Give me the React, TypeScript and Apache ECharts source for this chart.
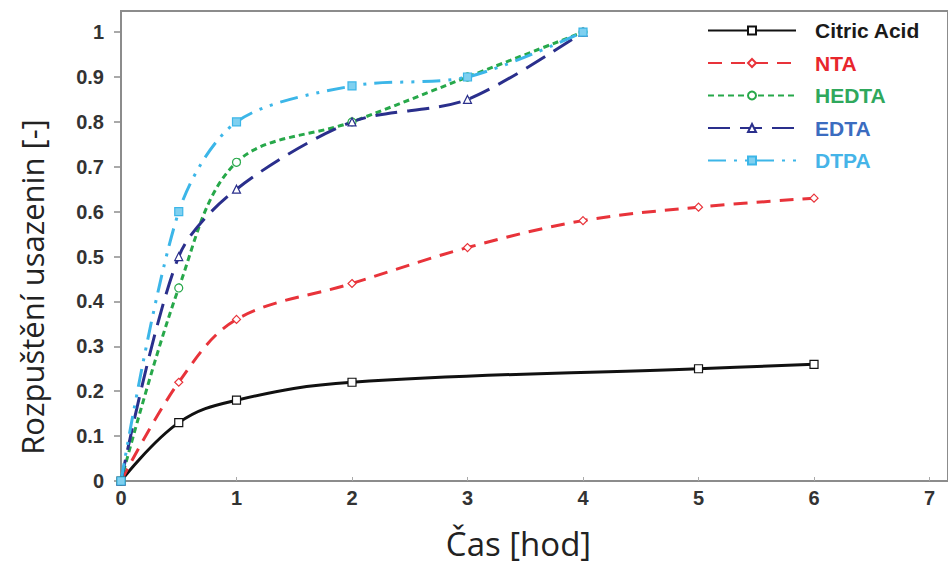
import React, { useEffect, useRef } from "react";
import * as echarts from "echarts";

const xTicks = [0, 1, 2, 3, 4, 5, 6, 7];
const yTicks = [0, 0.1, 0.2, 0.3, 0.4, 0.5, 0.6, 0.7, 0.8, 0.9, 1];

const citricX = [0, 0.5, 1, 2, 5, 6];
const citricY = [0, 0.13, 0.18, 0.22, 0.25, 0.26];
const ntaX = [0, 0.5, 1, 2, 3, 4, 5, 6];
const ntaY = [0, 0.22, 0.36, 0.44, 0.52, 0.58, 0.61, 0.63];
const hedtaX = [0, 0.5, 1, 2, 3, 4];
const hedtaY = [0, 0.43, 0.71, 0.8, 0.9, 1.0];
const edtaX = [0, 0.5, 1, 2, 3, 4];
const edtaY = [0, 0.5, 0.65, 0.8, 0.85, 1.0];
const dtpaX = [0, 0.5, 1, 2, 3, 4];
const dtpaY = [0, 0.6, 0.8, 0.88, 0.9, 1.0];

const seriesNames = ["Citric Acid", "NTA", "HEDTA", "EDTA", "DTPA"];
const textColors = ["#1a1a1a", "#e8262c", "#2fa85c", "#3b6cc0", "#45b4e8"];

const zip = (xs: number[], ys: number[]) => xs.map((x, i) => [x, ys[i]]);

export default function App() {
  const ref = useRef<HTMLDivElement>(null);
  useEffect(() => {
    document.body.style.margin = "0";
    if (!ref.current) return;
    const chart = echarts.init(ref.current, null, { renderer: "svg" });
    const axisGray = "#8c8c8c";
    const mk = (
      name: string,
      xs: number[],
      ys: number[],
      color: string,
      dash: any,
      symbol: string,
      symbolFill: string,
      smooth: number
    ) => ({
      name,
      type: "line",
      data: zip(xs, ys),
      smooth,
      symbol,
      symbolSize: 8,
      showSymbol: true,
      lineStyle: { color, width: 3, type: dash },
      itemStyle: { color: symbolFill, borderColor: color, borderWidth: 1.2 },
      emphasis: { disabled: true },
    });
    chart.setOption({
      animation: false,
      backgroundColor: "#ffffff",
      grid: { left: 121, top: 11, bottom: 90, right: -4, show: true, borderColor: axisGray, borderWidth: 2, backgroundColor: "transparent" },
      legend: {
        orient: "vertical",
        left: 702,
        top: 15,
        itemWidth: 88,
        itemHeight: 10,
        itemGap: 11.5,
        data: seriesNames.map((n, i) => ({
          name: n,
          textStyle: { color: textColors[i], fontWeight: "bold", fontSize: 21, fontFamily: "Liberation Sans, Arial, sans-serif" },
        })),
        textStyle: { padding: [0, 0, 0, 14] },
      },
      xAxis: {
        type: "value",
        min: 0,
        max: 7.16,
        name: "Čas [hod]",
        nameLocation: "middle",
        nameGap: 46,
        nameTextStyle: { fontSize: 33, color: "#222", fontFamily: "Open Sans, sans-serif", verticalAlign: "top", padding: [0, 32, 0, 0] },
        axisLine: { show: true, lineStyle: { color: axisGray, width: 2 } },
        axisTick: { show: true, inside: true, length: 4, customValues: xTicks, lineStyle: { color: "#aaa", width: 1 } },
        axisLabel: {
          customValues: xTicks,
          margin: 7,
          color: "#333",
          fontWeight: "bold",
          fontSize: 20,
          fontFamily: "Liberation Sans, Arial, sans-serif",
        },
        splitLine: { show: false },
      },
      yAxis: {
        type: "value",
        min: 0,
        max: 1.047,
        name: "Rozpuštění usazenin [-]",
        nameLocation: "middle",
        nameGap: 74,
        nameTextStyle: { fontSize: 31, color: "#222", fontFamily: "Open Sans, sans-serif", padding: [0, 82, 0, 0] },
        axisLine: { show: true, lineStyle: { color: axisGray, width: 2 } },
        axisTick: { show: true, inside: false, length: 7, customValues: yTicks, lineStyle: { color: axisGray, width: 1.5 } },
        axisLabel: {
          customValues: yTicks,
          margin: 17,
          color: "#333",
          fontWeight: "bold",
          fontSize: 20,
          fontFamily: "Liberation Sans, Arial, sans-serif",
          formatter: (v: number) => String(Math.round(v * 10) / 10),
        },
        splitLine: { show: false },
      },
      series: [
        mk("Citric Acid", citricX, citricY, "#111111", "solid", "rect", "#ffffff", 0.4),
        mk("NTA", ntaX, ntaY, "#e8333a", [14, 9], "diamond", "#ffffff", 0.35),
        mk("HEDTA", hedtaX, hedtaY, "#27a84a", [6, 4], "circle", "#ffffff", 0.35),
        mk("EDTA", edtaX, edtaY, "#2a2f8c", [22, 10], "triangle", "#ffffff", 0.3),
        mk("DTPA", dtpaX, dtpaY, "#3cb6e8", [18, 8, 3, 8, 3, 8], "rect", "#7fd0f0", 0.3),
      ],
    });
    return () => chart.dispose();
  }, []);
  return <div ref={ref} style={{ width: 948, height: 571 }} />;
}
